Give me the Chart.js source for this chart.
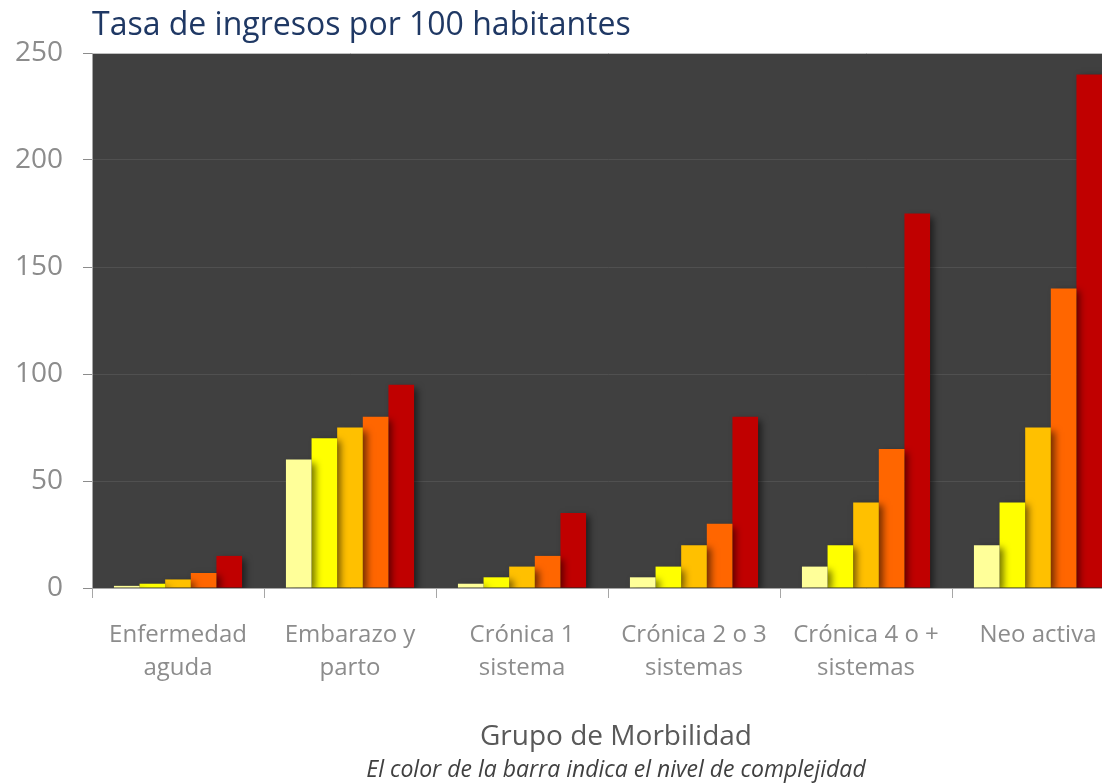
<!DOCTYPE html>
<html>
<head>
<meta charset="utf-8">
<script src="https://cdn.jsdelivr.net/npm/chart.js@4.4.1/dist/chart.umd.min.js"></script>
<style>
  html, body { margin: 0; padding: 0; background: #fff; overflow: hidden; }
  #wrap { width: 1130px; height: 784px; position: relative; }
</style>
</head>
<body>
<div id="wrap"><canvas id="bar-chart"></canvas></div>
<script>
// categories (x axis, two lines each)
let categories = [
    ["Enfermedad", "aguda"],
    ["Embarazo y", "parto"],
    ["Crónica 1", "sistema"],
    ["Crónica 2 o 3", "sistemas"],
    ["Crónica 4 o +", "sistemas"],
    ["Neo activa", ""]
]
// one series per complexity level (lowest to highest)
let nivel1Values = [1, 60, 2, 5, 10, 20]
let nivel2Values = [2, 70, 5, 10, 20, 40]
let nivel3Values = [4, 75, 10, 20, 40, 75]
let nivel4Values = [7, 80, 15, 30, 65, 140]
let nivel5Values = [15, 95, 35, 80, 175, 240]
let yTicks = [0, 50, 100, 150, 200, 250]

let titleText = "Tasa de ingresos por 100 habitantes"
let xTitleText = "Grupo de Morbilidad"
let noteText = "El color de la barra indica el nivel de complejidad"

const FONT = "'Open Sans', 'DejaVu Sans', sans-serif"

// dark plot background, bar shadow, titles
const decorPlugin = {
    id: 'decor',
    beforeDraw(chart) {
        const a = chart.chartArea
        const ctx = chart.ctx
        ctx.save()
        ctx.fillStyle = '#404040'
        ctx.fillRect(a.left, a.top, a.right - a.left, a.bottom - a.top)
        ctx.restore()
    },
    beforeDatasetsDraw(chart) {
        const ctx = chart.ctx
        ctx.save()
        ctx.shadowColor = 'rgba(0,0,0,0.55)'
        ctx.shadowBlur = 7
        ctx.shadowOffsetX = 4
        ctx.shadowOffsetY = 3
    },
    afterDatasetsDraw(chart) {
        chart.ctx.restore()
    },
    afterDraw(chart) {
        const a = chart.chartArea
        const ctx = chart.ctx
        ctx.save()
        ctx.textBaseline = 'middle'
        ctx.textAlign = 'left'
        ctx.fillStyle = '#1F3864'
        ctx.font = "32px " + FONT
        ctx.fillText(titleText, a.left, 26)
        const cx = (a.left + a.right) / 2 + 8
        ctx.textAlign = 'center'
        ctx.fillStyle = '#595959'
        ctx.font = "28px " + FONT
        ctx.fillText(xTitleText, cx, 737)
        ctx.fillStyle = '#404040'
        ctx.font = "italic 23px " + FONT
        ctx.fillText(noteText, cx, 770)
        ctx.restore()
    }
}

function makeChart() {
    new Chart(document.getElementById("bar-chart"), {
        type: 'bar',
        data: {
            labels: categories,
            datasets: [{
                label: "Nivel 1",
                data: nivel1Values,
                backgroundColor: "#FFFF99"
            }, {
                label: "Nivel 2",
                data: nivel2Values,
                backgroundColor: "#FFFF00"
            }, {
                label: "Nivel 3",
                data: nivel3Values,
                backgroundColor: "#FFC000"
            }, {
                label: "Nivel 4",
                data: nivel4Values,
                backgroundColor: "#FF6600"
            }, {
                label: "Nivel 5",
                data: nivel5Values,
                backgroundColor: "#C00000"
            }]
        },
        options: {
            responsive: false,
            animation: false,
            devicePixelRatio: 1,
            layout: { padding: { top: 53, right: 6, bottom: 0, left: 0 } },
            datasets: {
                bar: { categoryPercentage: 0.745, barPercentage: 1, borderWidth: 0 }
            },
            plugins: {
                legend: { display: false },
                title: { display: false },
                tooltip: { enabled: false }
            },
            scales: {
                x: {
                    grid: {
                        display: true,
                        offset: true,
                        drawOnChartArea: false,
                        drawTicks: true,
                        tickLength: 10,
                        tickColor: '#a6a6a6'
                    },
                    border: { display: true, color: '#a6a6a6', width: 1 },
                    ticks: {
                        color: '#8c8c8c',
                        font: { family: FONT, size: 24, lineHeight: 1.4 },
                        padding: 20,
                        maxRotation: 0,
                        autoSkip: false
                    },
                    afterFit(scale) { scale.height = 196 }
                },
                y: {
                    min: 0,
                    max: 250,
                    afterBuildTicks(scale) { scale.ticks = yTicks.map(v => ({ value: v })) },
                    grid: {
                        color: ctx => ctx.tick && ctx.tick.value === 250 ? '#bfbfbf' : '#505050',
                        tickColor: '#8c8c8c',
                        tickLength: 9,
                        drawTicks: true
                    },
                    border: { display: true, color: '#a6a6a6', width: 1 },
                    ticks: {
                        color: '#8c8c8c',
                        font: { family: FONT, size: 28 },
                        padding: 20
                    },
                    afterFit(scale) { scale.width = 92 }
                }
            }
        },
        plugins: [decorPlugin]
    })
}

document.getElementById("bar-chart").width = 1130
document.getElementById("bar-chart").height = 784
makeChart()
</script>
</body>
</html>
